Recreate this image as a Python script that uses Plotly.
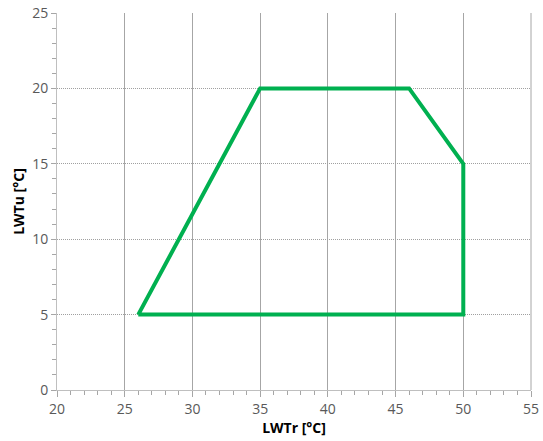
import plotly.graph_objects as go

# Operating envelope boundary (closed polygon)
lwtr = [26, 35, 46, 50, 50, 26]
lwtu = [5, 20, 20, 15, 5, 5]

x_ticks = [20, 25, 30, 35, 40, 45, 50, 55]
y_ticks = [0, 5, 10, 15, 20, 25]

fig = go.Figure()
fig.add_trace(go.Scatter(
    x=lwtr, y=lwtu, mode="lines",
    line=dict(color="#00b050", width=4),
    hoverinfo="skip", showlegend=False, cliponaxis=False,
))

# right-hand frame edge (vertical grid at the axis end)
fig.add_shape(type="line", xref="paper", yref="paper", x0=1, x1=1, y0=0, y1=1,
              line=dict(color="#a6a6a6", width=1), layer="below")

font_fam = "Open Sans, Noto Sans, sans-serif"
fig.update_layout(
    width=543, height=441,
    margin=dict(l=57, r=12, t=13, b=51, autoexpand=False),
    paper_bgcolor="white", plot_bgcolor="white",
    font=dict(family=font_fam, color="#595959", size=14),
    xaxis=dict(
        range=[20, 55], tickvals=x_ticks, ticktext=[str(v) for v in x_ticks],
        showgrid=True, gridcolor="#a6a6a6", gridwidth=1,
        showline=True, linecolor="#bfbfbf", linewidth=1, mirror=False,
        ticks="outside", ticklen=6, tickcolor="#a6a6a6",
        minor=dict(dtick=1, ticks="outside", ticklen=4, tickcolor="#a6a6a6", showgrid=False),
        zeroline=False, automargin=False,
        title=dict(text="<b>LWTr [°C]</b>", font=dict(size=14, color="#000000"), standoff=6),
    ),
    yaxis=dict(
        range=[0, 25], tickvals=y_ticks, ticktext=[str(v) for v in y_ticks],
        showgrid=True, gridcolor="#a0a0a0", gridwidth=1, griddash="1px,1px",
        showline=True, linecolor="#bfbfbf", linewidth=1,
        ticks="outside", ticklen=5, tickcolor="#a6a6a6",
        minor=dict(dtick=1, ticks="outside", ticklen=4, tickcolor="#a6a6a6", showgrid=False),
        zeroline=False, automargin=False,
        title=dict(text="<b>LWTu [°C]</b>", font=dict(size=14, color="#000000"), standoff=4),
    ),
)
fig.write_html(
    "out.html",
    config={"displayModeBar": False, "staticPlot": True},
    post_script="document.body.style.margin='0px';document.body.style.overflow='hidden';",
)
